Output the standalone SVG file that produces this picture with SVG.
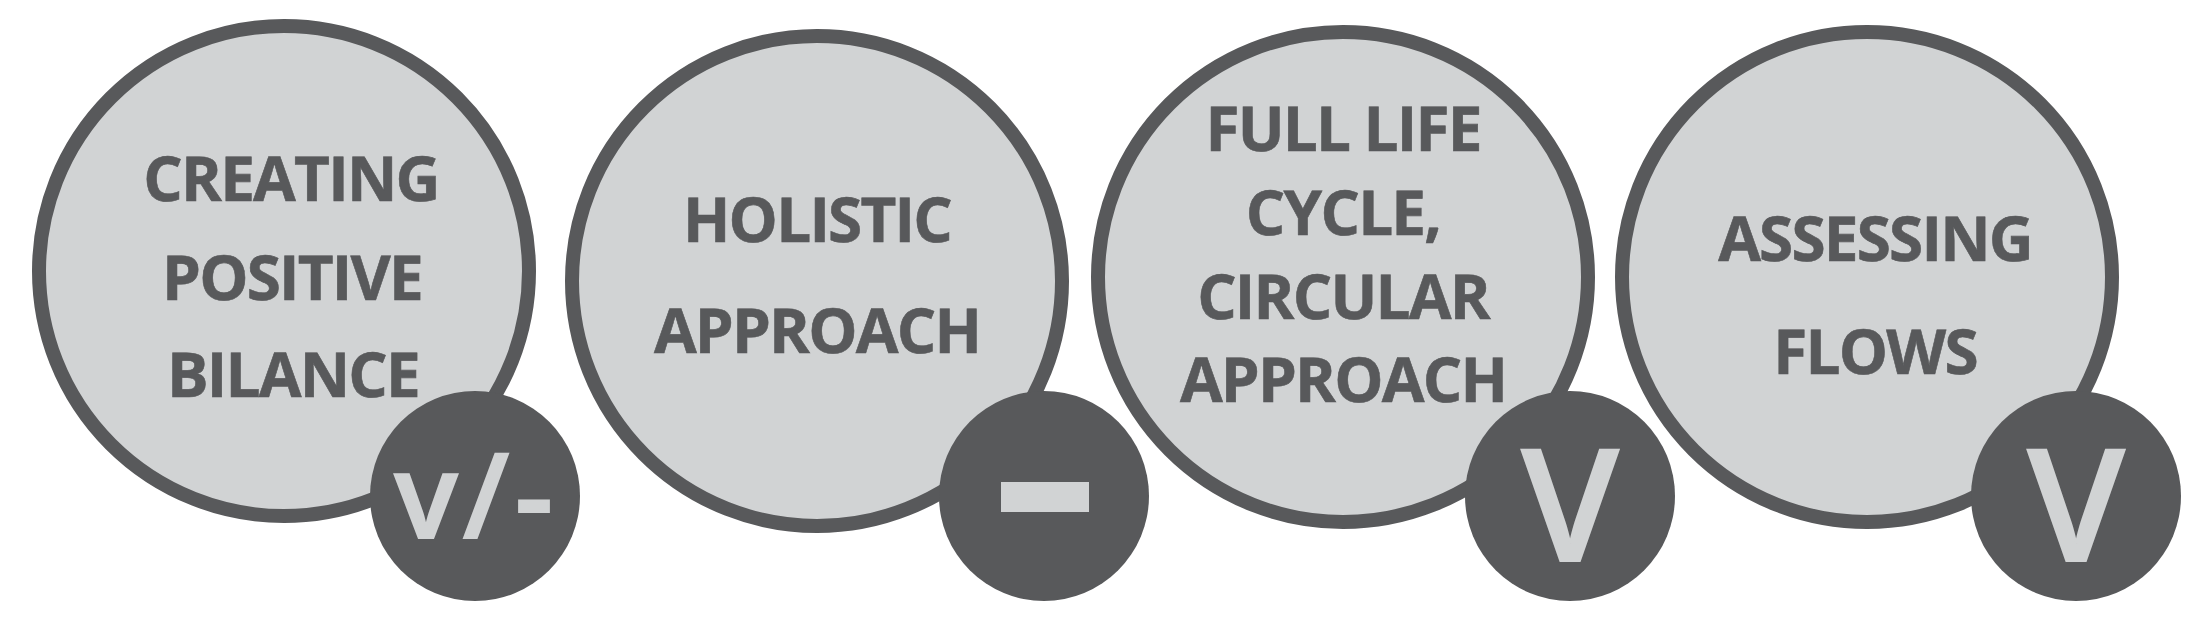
<svg xmlns="http://www.w3.org/2000/svg" width="2204" height="642" viewBox="0 0 2204 642">
<style>
.c{fill:#d1d3d4;stroke:#58595b;stroke-width:14}
.b{fill:#58595b}
text{font-family:"Open Sans","Noto Sans",sans-serif;font-weight:700;font-size:62px;letter-spacing:-1.8px;font-kerning:none;text-rendering:geometricPrecision;fill:#58595b;stroke:#58595b;stroke-width:.6px;text-anchor:middle}
text.m{fill:#d1d3d4;stroke:#d1d3d4;stroke-width:2px;font-weight:600;letter-spacing:0}
</style>
<rect width="2204" height="642" fill="#fff"/>
<g id="node-1"><circle class="c" cx="284" cy="271" r="245"/><text x="291" y="201">CREATING</text><text x="292" y="300">POSITIVE</text><text x="293" y="397">BILANCE</text><circle class="b" cx="475" cy="496" r="105"/><text class="m" x="426 486 534" y="538" style="font-size:118px">v/-</text></g>
<g id="node-2"><circle class="c" cx="817" cy="281" r="245"/><text x="817" y="242">HOLISTIC</text><text x="817" y="353">APPROACH</text><circle class="b" cx="1044" cy="496" r="105"/><rect x="1001" y="482" width="88" height="30" fill="#d1d3d4"/></g>
<g id="node-3"><circle class="c" cx="1343" cy="277" r="245"/><text x="1343" y="151">FULL LIFE</text><text x="1343" y="235">CYCLE,</text><text x="1343" y="319">CIRCULAR</text><text x="1343" y="402">APPROACH</text><circle class="b" cx="1570" cy="496" r="105"/><text class="m" x="1570" y="561" style="font-size:156px">V</text></g>
<g id="node-4"><circle class="c" cx="1867" cy="277" r="245"/><text x="1875" y="261">ASSESSING</text><text x="1875" y="374">FLOWS</text><circle class="b" cx="2076" cy="496" r="105"/><text class="m" x="2076" y="561" style="font-size:156px">V</text></g>
<g id="connectors"/>
</svg>
